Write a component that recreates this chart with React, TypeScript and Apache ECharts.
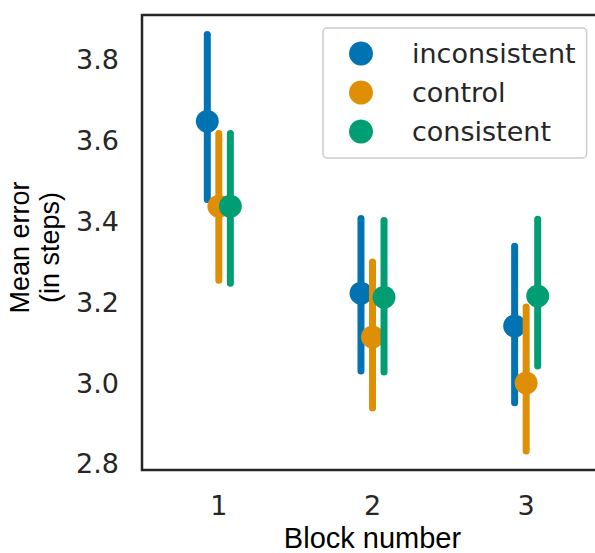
import React, { useEffect, useRef } from "react";
import * as echarts from "echarts";

const blocks = ["1", "2", "3"];
const hues = ["inconsistent", "control", "consistent"];
const colors = ["#0173b2", "#de8f05", "#029e73"];
const dodge = [-0.075, 0, 0.075];

// mean, lower CI, upper CI per block
const inconsistentMean = [3.647, 3.222, 3.141];
const inconsistentLo = [3.454, 3.03, 2.951];
const inconsistentHi = [3.862, 3.407, 3.338];

const controlMean = [3.437, 3.114, 3.0];
const controlLo = [3.254, 2.938, 2.832];
const controlHi = [3.617, 3.299, 3.188];

const consistentMean = [3.437, 3.212, 3.215];
const consistentLo = [3.247, 3.027, 3.042];
const consistentHi = [3.617, 3.402, 3.405];

const yTicks = [2.8, 3.0, 3.2, 3.4, 3.6, 3.8];

const means = [inconsistentMean, controlMean, consistentMean];
const los = [inconsistentLo, controlLo, consistentLo];
const his = [inconsistentHi, controlHi, consistentHi];

const FONT = "DejaVu Sans";
const LABEL_FONT = "Liberation Sans";
const TEXT = "#262626";

export default function App() {
  const ref = useRef<HTMLDivElement>(null);
  useEffect(() => {
    if (!ref.current) return;
    const chart = echarts.init(ref.current, undefined, { renderer: "svg" });
    const series = hues.map((name, h) => ({
      name,
      type: "custom",
      itemStyle: { color: colors[h] },
      encode: { x: 0, y: [1, 2, 3] },
      data: blocks.map((_, i) => [i, means[h][i], los[h][i], his[h][i]]),
      renderItem: (params: any, api: any) => {
        const cat = api.value(0);
        const band = api.size([1, 0])[0];
        const c = api.coord([cat, api.value(1)]);
        const x = c[0] + dodge[h] * band;
        const yLo = api.coord([cat, api.value(2)])[1];
        const yHi = api.coord([cat, api.value(3)])[1];
        return {
          type: "group",
          children: [
            {
              type: "line",
              shape: { x1: x, y1: yHi, x2: x, y2: yLo },
              style: { stroke: colors[h], lineWidth: 7, lineCap: "round" },
            },
            {
              type: "circle",
              shape: { cx: x, cy: c[1], r: 11.5 },
              style: { fill: colors[h] },
            },
          ],
        };
      },
    }));
    chart.setOption({
      animation: false,
      backgroundColor: "#ffffff",
      grid: {
        left: 142,
        top: 15,
        width: 461,
        height: 455,
        containLabel: false,
        outerBoundsMode: "none",
        show: true,
        borderColor: TEXT,
        borderWidth: 2.5,
        backgroundColor: "transparent",
      },
      legend: {
        data: hues,
        orient: "vertical",
        left: 323,
        top: 28,
        icon: "circle",
        itemWidth: 24,
        itemHeight: 24,
        itemGap: 12,
        padding: [12, 11, 13, 26],
        backgroundColor: "#ffffff",
        borderColor: "#cccccc",
        borderWidth: 1.5,
        borderRadius: 4,
        textStyle: {
          fontFamily: FONT,
          fontSize: 27,
          color: TEXT,
          padding: [0, 0, 0, 34],
          lineHeight: 24,
        },
      },
      xAxis: {
        type: "category",
        data: blocks,
        boundaryGap: true,
        axisLine: { show: false },
        axisTick: { show: false },
        splitLine: { show: false },
        axisLabel: { fontFamily: FONT, fontSize: 27, color: TEXT, margin: 22 },
        name: "Block number",
        nameLocation: "middle",
        nameGap: 48,
        nameTextStyle: { fontFamily: LABEL_FONT, fontSize: 29, color: "#000000", lineHeight: 29 },
      },
      yAxis: {
        type: "value",
        min: 2.785,
        max: 3.91,
        interval: 0.005,
        axisLine: { show: false },
        axisTick: { show: false },
        splitLine: { show: false },
        axisLabel: {
          fontFamily: FONT,
          fontSize: 27,
          color: TEXT,
          margin: 23,
          showMinLabel: false,
          showMaxLabel: false,
          formatter: (v: number) => {
            const t = yTicks.find((k) => Math.abs(k - v) < 1e-6);
            return t === undefined ? "" : t.toFixed(1);
          },
        },
        name: "Mean error\n(in steps)",
        nameLocation: "middle",
        nameRotate: 90,
        nameGap: 72,
        nameTextStyle: {
          fontFamily: LABEL_FONT,
          fontSize: 27,
          color: "#000000",
          lineHeight: 30,
          padding: [0, 10, 0, 0],
        },
      },
      series,
    });
    return () => chart.dispose();
  }, []);
  return (
    <div
      ref={ref}
      style={{ position: "fixed", left: 0, top: 0, width: 595, height: 553, background: "#fff" }}
    />
  );
}
